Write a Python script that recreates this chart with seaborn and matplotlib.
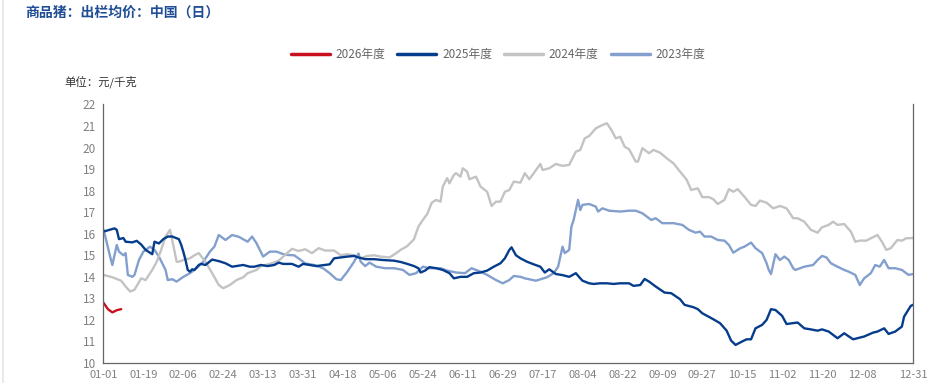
import pandas as pd
import matplotlib.pyplot as plt
import seaborn as sns
from matplotlib.lines import Line2D

# 横轴: 闰年日序 0..365 (01-01 .. 12-31)
tick_pos = [0, 18, 36, 54, 72, 90, 108, 126, 144, 162, 180, 198, 216, 234, 252, 270, 288, 306, 324, 342, 365]
tick_labels = ['01-01', '01-19', '02-06', '02-24', '03-13', '03-31', '04-18', '05-06', '05-24', '06-11',
               '06-29', '07-17', '08-04', '08-22', '09-09', '09-27', '10-15', '11-02', '11-20', '12-08', '12-31']

days_2026 = [0, 2, 4, 6, 8]
vals_2026 = [12.8, 12.5, 12.35, 12.45, 12.5]

days_2025 = [0, 5, 6, 7, 9, 10, 13, 15, 17, 19, 22, 23, 25, 27, 29, 31, 34, 35, 36, 37, 38, 39, 40, 41, 43, 44,
             46, 49, 52, 55, 58, 60, 63, 66, 68, 71, 74, 77, 79, 81, 85, 88, 90, 93, 96, 102, 104, 107, 110, 113,
             115, 118, 122, 126, 131, 134, 137, 140, 142, 143, 145, 147, 150, 153, 156, 158, 161, 164, 167, 170,
             173, 176, 179, 181, 183, 184, 186, 188, 191, 194, 197, 199, 201, 204, 207, 210, 213, 215, 216, 219,
             221, 224, 227, 230, 233, 237, 239, 242, 244, 246, 249, 253, 256, 260, 262, 266, 268, 270, 275, 278,
             281, 283, 285, 288, 290, 292, 294, 297, 299, 301, 303, 306, 308, 311, 313, 316, 319, 322, 324, 327,
             331, 334, 338, 343, 347, 349, 352, 354, 357, 360, 361, 364, 365]
vals_2025 = [16.1, 16.25, 16.18, 15.75, 15.8, 15.63, 15.6, 15.67, 15.5, 15.25, 15.05, 15.63, 15.55, 15.75, 15.87,
             15.87, 15.75, 15.5, 15.17, 14.78, 14.32, 14.24, 14.35, 14.32, 14.55, 14.6, 14.55, 14.8, 14.73, 14.63,
             14.47, 14.5, 14.55, 14.47, 14.47, 14.55, 14.5, 14.55, 14.66, 14.6, 14.6, 14.47, 14.6, 14.55, 14.5,
             14.58, 14.86, 14.9, 14.94, 14.97, 14.9, 14.82, 14.82, 14.78, 14.75, 14.69, 14.6, 14.5, 14.4, 14.2,
             14.29, 14.45, 14.4, 14.32, 14.17, 13.93, 14.0, 14.0, 14.17, 14.2, 14.29, 14.47, 14.63, 14.86, 15.25,
             15.37, 15.0, 14.86, 14.7, 14.58, 14.47, 14.2, 14.35, 14.13, 14.08, 14.0, 14.17, 13.93, 13.82, 13.7,
             13.67, 13.7, 13.7, 13.67, 13.7, 13.7, 13.58, 13.62, 13.9, 13.78, 13.55, 13.27, 13.24, 12.96, 12.7,
             12.59, 12.5, 12.31, 12.03, 11.85, 11.5, 11.04, 10.84, 11.0, 11.1, 11.1, 11.61, 11.77, 12.0, 12.5,
             12.46, 12.19, 11.81, 11.85, 11.88, 11.61, 11.56, 11.5, 11.56, 11.46, 11.15, 11.38, 11.1, 11.23, 11.41,
             11.46, 11.61, 11.35, 11.46, 11.69, 12.15, 12.65, 12.7]

days_2024 = [0, 4, 8, 10, 12, 14, 17, 19, 22, 24, 26, 28, 30, 31, 33, 34, 36, 39, 41, 43, 46, 49, 52, 54, 57, 60,
             63, 65, 69, 71, 75, 79, 85, 88, 91, 94, 97, 100, 104, 107, 110, 113, 116, 119, 122, 125, 129, 132, 134,
             137, 140, 142, 144, 146, 148, 150, 152, 153, 155, 156, 158, 159, 161, 162, 164, 165, 168, 170, 173,
             175, 177, 179, 181, 183, 185, 188, 190, 192, 194, 197, 198, 201, 204, 207, 210, 213, 215, 217, 219,
             222, 224, 227, 229, 231, 233, 235, 237, 240, 241, 243, 246, 248, 251, 254, 257, 260, 263, 265, 268,
             270, 273, 275, 277, 280, 282, 284, 286, 289, 292, 294, 296, 299, 302, 305, 308, 311, 313, 316, 319,
             322, 324, 327, 329, 331, 334, 337, 339, 341, 344, 346, 349, 351, 353, 355, 358, 360, 362, 365]
vals_2024 = [14.09, 13.98, 13.82, 13.55, 13.32, 13.4, 13.93, 13.85, 14.32, 14.7, 15.25, 15.87, 16.18, 15.71, 14.7,
             14.7, 14.78, 14.86, 15.0, 15.1, 14.7, 14.17, 13.62, 13.47, 13.62, 13.85, 13.98, 14.17, 14.32, 14.5,
             14.6, 14.75, 15.3, 15.2, 15.28, 15.1, 15.33, 15.22, 15.22, 15.0, 15.05, 15.0, 14.86, 14.97, 15.0,
             14.94, 14.9, 15.1, 15.25, 15.43, 15.74, 16.33, 16.64, 16.92, 17.44, 17.57, 17.49, 18.19, 18.58, 18.34,
             18.73, 18.81, 18.65, 19.04, 18.88, 18.53, 18.65, 18.19, 17.95, 17.29, 17.49, 17.49, 17.95, 18.03,
             18.42, 18.37, 18.81, 18.53, 18.81, 19.24, 18.96, 19.04, 19.24, 19.15, 19.2, 19.81, 19.89, 20.43, 20.54,
             20.89, 21.0, 21.13, 20.82, 20.43, 20.5, 20.04, 19.92, 19.35, 19.35, 19.97, 19.74, 19.89, 19.76, 19.5,
             19.27, 18.88, 18.5, 18.03, 18.11, 17.7, 17.7, 17.6, 17.38, 17.57, 18.07, 17.95, 18.07, 17.72, 17.34,
             17.29, 17.54, 17.44, 17.18, 17.29, 17.18, 16.72, 16.72, 16.56, 16.18, 16.05, 16.3, 16.41, 16.56,
             16.41, 16.45, 16.1, 15.63, 15.68, 15.68, 15.79, 15.94, 15.63, 15.25, 15.33, 15.71, 15.68, 15.79, 15.8]

days_2023 = [0, 1, 3, 4, 6, 7, 9, 10, 11, 13, 14, 16, 18, 21, 23, 25, 28, 29, 31, 33, 36, 39, 42, 45, 48, 50, 52,
             55, 58, 61, 65, 67, 69, 72, 75, 78, 82, 86, 89, 91, 95, 99, 102, 105, 107, 110, 113, 115, 116, 118,
             120, 123, 127, 131, 135, 138, 141, 144, 147, 152, 155, 159, 163, 166, 170, 173, 177, 180, 183, 185,
             188, 190, 195, 200, 203, 205, 207, 208, 210, 211, 212, 214, 215, 216, 219, 222, 223, 225, 228, 233,
             237, 240, 243, 247, 249, 252, 257, 261, 264, 267, 269, 271, 274, 277, 280, 282, 284, 287, 289, 292,
             294, 297, 299, 300, 301, 303, 305, 307, 309, 311, 312, 316, 320, 322, 324, 326, 328, 331, 334, 336,
             339, 341, 343, 346, 348, 350, 352, 354, 357, 360, 363, 365]
vals_2023 = [16.2, 15.8, 14.94, 14.55, 15.48, 15.17, 15.0, 15.1, 14.09, 14.0, 14.09, 14.78, 15.17, 15.4, 15.25,
             14.94, 14.32, 13.85, 13.89, 13.78, 14.0, 14.17, 14.4, 14.7, 15.17, 15.4, 15.94, 15.71, 15.94, 15.86,
             15.63, 15.87, 15.56, 14.94, 15.17, 15.17, 15.02, 15.0, 14.78, 14.62, 14.55, 14.4, 14.17, 13.89, 13.85,
             14.24, 14.7, 15.08, 14.7, 14.5, 14.66, 14.47, 14.4, 14.4, 14.32, 14.09, 14.17, 14.47, 14.4, 14.4,
             14.29, 14.2, 14.17, 14.4, 14.24, 14.09, 13.85, 13.7, 13.85, 14.04, 14.0, 13.93, 13.82, 13.98, 14.17,
             14.47, 15.4, 15.1, 15.25, 16.33, 16.64, 17.57, 17.1, 17.34, 17.38, 17.26, 17.03, 17.18, 17.07, 17.03,
             17.07, 17.07, 16.95, 16.64, 16.72, 16.49, 16.49, 16.41, 16.18, 16.05, 16.1, 15.87, 15.87, 15.71,
             15.68, 15.48, 15.12, 15.32, 15.4, 15.59, 15.33, 15.1, 14.63, 14.32, 14.13, 15.05, 14.78, 14.94, 14.78,
             14.4, 14.32, 14.47, 14.55, 14.78, 14.97, 14.9, 14.63, 14.47, 14.32, 14.24, 14.09, 13.62, 13.93, 14.17,
             14.55, 14.47, 14.78, 14.4, 14.4, 14.32, 14.09, 14.13]

series = [
    ('2023年度', days_2023, vals_2023, '#829fcd'),
    ('2024年度', days_2024, vals_2024, '#c3c3c3'),
    ('2025年度', days_2025, vals_2025, '#053c8c'),
    ('2026年度', days_2026, vals_2026, '#c8101e'),
]

sns.set_style('white')
plt.rcParams['font.family'] = ['Noto Sans CJK SC', 'DejaVu Sans']

fig = plt.figure(figsize=(9.38, 3.83), dpi=100)
ax = fig.add_axes([0.1103, 0.0522, 0.8630, 0.675])

for name, d, v, c in series:
    df = pd.DataFrame({'day': d, 'price': v})
    sns.lineplot(data=df, x='day', y='price', ax=ax, color=c, linewidth=1.7, label=name)

ax.set_xlim(0, 365)
ax.set_ylim(10, 22)
ax.set_yticks(range(10, 23))
ax.set_xticks(tick_pos)
ax.set_xticklabels(tick_labels)
ax.set_xlabel('')
ax.set_ylabel('')
ax.tick_params(axis='both', direction='out', length=4, width=0.8, color='#555555',
               labelcolor='#808080', labelsize=8.5, pad=1.5)
ax.tick_params(axis='x', labelsize=8, pad=1)
for s in ['left', 'bottom', 'right']:
    ax.spines[s].set_visible(True)
    ax.spines[s].set_color('#666666')
    ax.spines[s].set_linewidth(0.9)
ax.spines['top'].set_visible(False)

ax.get_legend().remove()
handles = [Line2D([], [], color=c, linewidth=2.5) for name, d, v, c in series[::-1]]
labels = [name for name, d, v, c in series[::-1]]
fig.legend(handles, labels, loc='center', bbox_to_anchor=(0.531, 0.858), ncol=4, frameon=False,
           fontsize=8.5, labelcolor='#666666', handlelength=3.3, handletextpad=0.5, columnspacing=1.0)

fig.text(0.027, 0.968, '商品猪：出栏均价：中国（日）', fontsize=10, fontweight='bold',
         color='#1f4e96', va='center', ha='left')
fig.text(0.069, 0.786, '单位：元/千克', fontsize=8.2, color='#333333', va='center', ha='left')
fig.add_artist(Line2D([0.003, 0.003], [0, 1], color='#e6e6e6', linewidth=1.2))

fig.savefig('out.png', dpi=100)
